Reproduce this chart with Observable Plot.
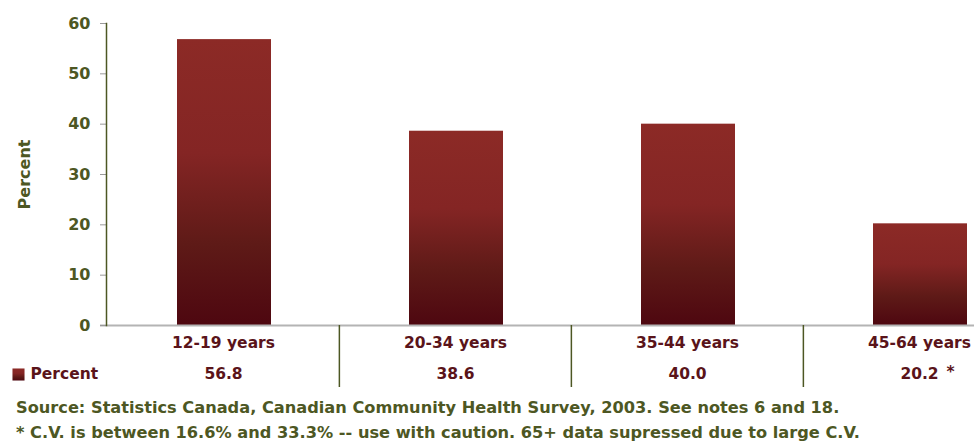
<!DOCTYPE html>
<html><head><meta charset="utf-8">
<script src="https://cdn.jsdelivr.net/npm/d3@7"></script>
<script src="https://cdn.jsdelivr.net/npm/@observablehq/plot@0.6"></script>
<style>
html,body{margin:0;padding:0;background:#fff;overflow:hidden;}
#chart svg{display:block;}
#foot{margin:0;padding:3px 0 0 16px;font-family:"DejaVu Sans",sans-serif;font-weight:bold;font-size:16.2px;line-height:25px;color:#4d5723;white-space:nowrap;}
</style></head><body>
<div id="chart"></div>
<div id="foot"></div>
<script>
// ---- data ----
const categories = ["12-19 years", "20-34 years", "35-44 years", "45-64 years"];
const values = [56.8, 38.6, 40.0, 20.2];
const flags = ["", "", "", "*"];
const yTicks = [0, 10, 20, 30, 40, 50, 60];
const seriesName = "Percent";
const yLabel = "Percent";
const footLines = [
  "Source: Statistics Canada, Canadian Community Health Survey, 2003. See notes 6 and 18.",
  "* C.V. is between 16.6% and 33.3% -- use with caution. 65+ data supressed due to large C.V."
];

// ---- layout ----
const W = 974, H = 392;
const mL = 106, mT = 23, mB = 67;
const xRange = [mL, 1035];
const step = (xRange[1] - xRange[0]) / categories.length;
const plotH = H - mT - mB;
const olive = "#4d5723", maroon = "#5a141a", font = "'DejaVu Sans', sans-serif";

const data = categories.map((c, i) => ({category: c, value: values[i], flag: flags[i]}));

const gradient = () => {
  const defs = d3.create("svg:defs");
  const g = defs.append("linearGradient").attr("id", "barGrad")
    .attr("x1", 0).attr("y1", 0).attr("x2", 0).attr("y2", 1);
  g.append("stop").attr("offset", "0%").attr("stop-color", "#8c2a26");
  g.append("stop").attr("offset", "40%").attr("stop-color", "#842524");
  g.append("stop").attr("offset", "72%").attr("stop-color", "#5e1a17");
  g.append("stop").attr("offset", "100%").attr("stop-color", "#4e0710");
  return defs.node();
};

const chart = Plot.plot({
  width: W, height: H,
  marginLeft: mL, marginRight: 0, marginTop: mT, marginBottom: mB,
  style: {fontFamily: font, fontWeight: "bold", background: "white", overflow: "hidden"},
  x: {type: "band", domain: categories, range: xRange, padding: 0},
  y: {domain: [0, 60], range: [H - mB, mT]},
  marks: [
    gradient,
    Plot.barY(data, {x: "category", y: "value", fill: "url(#barGrad)", insetLeft: 70, insetRight: 68}),
    Plot.ruleY([0], {stroke: "#b4b4b4", strokeWidth: 2, insetLeft: -6}),
    Plot.axisY({ticks: yTicks, tickSize: 6, tickPadding: 10, fontSize: 16, fill: olive, stroke: "#9a9a9a", label: null}),
    Plot.frame({anchor: "left", stroke: olive, strokeWidth: 1.5}),
    Plot.text([yLabel], {frameAnchor: "left", textAnchor: "middle", lineAnchor: "middle", dx: -82, rotate: -90, fontSize: 16, fill: olive, fontWeight: "bold"}),
    Plot.axisX({tickSize: 0, tickPadding: 11, fontSize: 15.5, fill: maroon, label: null}),
    Plot.text(data, {x: "category", text: d => d.value.toFixed(1), frameAnchor: "bottom", lineAnchor: "middle", dy: 49, fontSize: 15.5, fill: maroon}),
    Plot.text(data, {x: "category", text: "flag", frameAnchor: "bottom", lineAnchor: "middle", dy: 47, dx: 27, textAnchor: "start", fontSize: 15.5, fill: maroon}),
    Plot.ruleX(categories.slice(1), {x: d => d, dx: -step / 2, insetTop: plotH, insetBottom: -62, stroke: olive, strokeWidth: 1.5}),
    Plot.dot([seriesName], {frameAnchor: "bottom-left", dx: -88, dy: 49, symbol: "square", r: 6.8, fill: "url(#barGrad)"}),
    Plot.text([seriesName], {frameAnchor: "bottom-left", lineAnchor: "middle", dx: -76, dy: 49, textAnchor: "start", fontSize: 15.5, fill: maroon})
  ]
});
document.getElementById("chart").append(chart);
document.getElementById("foot").innerHTML = footLines.map(s => `<div>${s}</div>`).join("");
</script>
</body></html>
